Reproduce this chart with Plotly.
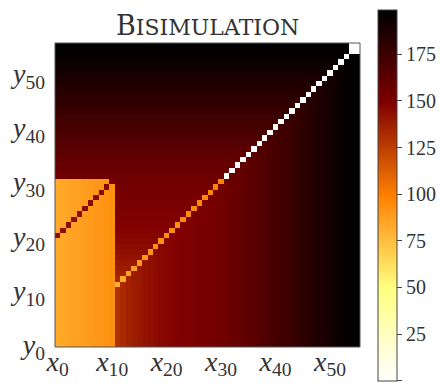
import plotly.graph_objects as go

N = 56
# column levels of the orange block (x0..x10, y0..y30)
block_levels = [83, 84, 85, 86, 87, 88, 89, 90, 91, 92, 93]
# dark-red diagonal inside the block: cells (x_i, y_{20+i})
block_diag_levels = [144, 144, 144, 144, 144, 145, 145, 145, 146, 146, 150]
# background level by state index 11..55
far_levels = [130, 133, 136, 138, 140, 142, 143, 145, 146, 147,
              148, 149, 150, 150, 151, 152, 152, 153, 154, 155,
              156, 158, 159, 161, 162, 164, 166, 168, 170, 172,
              174, 175, 177, 179, 181, 183, 185, 187, 189, 191,
              193, 195, 197, 198, 199]
# main diagonal cells (x_i, y_i) for i = 11..55
diag_levels = [80, 84, 86, 88, 89, 90, 91, 92, 93, 93,
               94, 94, 95, 95, 96, 96, 97, 97, 98, 98,
               0, 0, 0, 0, 0, 0, 0, 0, 0, 0,
               0, 0, 0, 0, 0, 0, 0, 0, 0, 0,
               0, 0, 0, 0, 0]
corner_level = 0

x_tick_vals = [0, 10, 20, 30, 40, 50]
x_tick_text = ["<i>x</i><sub>%d</sub>" % v for v in x_tick_vals]
y_tick_text = ["<i>y</i><sub>%d</sub>" % v for v in x_tick_vals]
cbar_ticks = [0, 25, 50, 75, 100, 125, 150, 175]

z = []
for yy in range(N):
    row = []
    for xx in range(N):
        if xx <= 10 and yy <= 30:
            row.append(block_levels[xx])
        else:
            row.append(far_levels[max(xx, yy) - 11])
    z.append(row)
for i, v in enumerate(block_diag_levels):
    z[20 + i][i] = v
for i, v in enumerate(diag_levels):
    z[11 + i][11 + i] = v
z[54][55] = corner_level
z[55][54] = corner_level

afmhot_r = [
    [0.0, "rgb(255,255,255)"],
    [0.25, "rgb(255,255,128)"],
    [0.5, "rgb(255,128,0)"],
    [0.75, "rgb(128,0,0)"],
    [1.0, "rgb(0,0,0)"],
]

serif = "Liberation Serif"
fig = go.Figure(go.Heatmap(
    z=z, x=list(range(N)), y=list(range(N)),
    zmin=0, zmax=199, colorscale=afmhot_r,
    colorbar=dict(
        x=1.059, xanchor="left", xpad=0,
        y=1.1098, yanchor="top", ypad=0,
        len=371, lenmode="pixels", thickness=19,
        outlinecolor="#444", outlinewidth=1,
        tickvals=cbar_ticks, ticks="outside", ticklen=5, tickcolor="#444",
        tickprefix="\u2009",
        tickfont=dict(family=serif, size=20, color="#333"),
    ),
))

fig.update_layout(
    width=441, height=383,
    margin=dict(l=55, r=81, t=43, b=36, autoexpand=False),
    paper_bgcolor="white", plot_bgcolor="white",
    template="none",
    xaxis=dict(range=[-0.5, 55.5], tickvals=x_tick_vals, ticktext=x_tick_text,
               showgrid=False, zeroline=False, showline=False,
               anchor="free", position=0.018,
               ticks="", automargin=False, ticklabelstandoff=0,
               tickfont=dict(family=serif, size=28, color="#333")),
    yaxis=dict(range=[-0.5, 55.5], tickvals=x_tick_vals, ticktext=y_tick_text,
               showgrid=False, zeroline=False, showline=False,
               ticks="", automargin=False, ticklabelstandoff=9,
               tickfont=dict(family=serif, size=28, color="#333")),
    shapes=[dict(type="rect", xref="paper", yref="paper", x0=0, x1=1, y0=0, y1=1,
                 line=dict(color="#555", width=1), fillcolor="rgba(0,0,0,0)")],
    annotations=[dict(
        text="B<span style='font-size:22px'>ISIMULATION</span>",
        x=0.5, xref="paper", y=1.059, yref="paper",
        xanchor="center", yanchor="middle", showarrow=False,
        font=dict(family="DejaVu Serif", size=27, color="#333"),
    )],
)

fig.write_html("out.html", config={"displayModeBar": False},
               post_script="document.body.style.margin='0';document.body.style.overflow='hidden';")
